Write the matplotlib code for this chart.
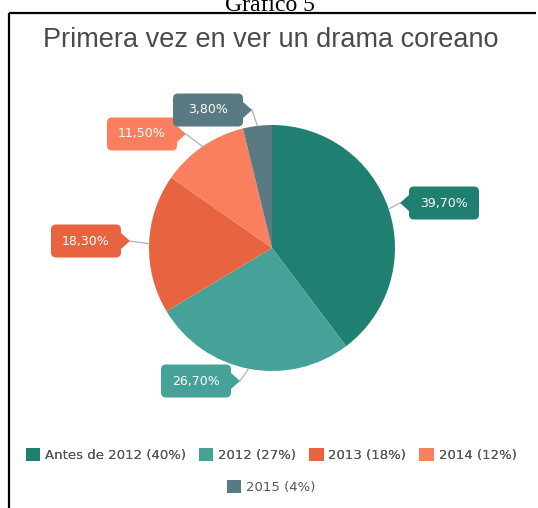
import numpy as np
import matplotlib.pyplot as plt
from matplotlib.patches import FancyBboxPatch, Polygon, Patch

W, H = 538, 508

categories = ["Antes de 2012", "2012", "2013", "2014", "2015"]
values = [39.7, 26.7, 18.3, 11.5, 3.8]
legend_pct = [40, 27, 18, 12, 4]
colors = ["#1f7f71", "#46a199", "#e8633f", "#f97f5f", "#597a82"]

# callout box centres (pixels, y down) and which side the pointer sits on
box_pos = [(444, 203), (196, 381), (86, 241), (142, 134), (208, 110)]
box_side = ["left", "right", "right", "right", "right"]

cx, cy, r = 272, 248, 123


def py(y):
    # pixel row -> data y
    return H - y


fig = plt.figure(figsize=(W / 100, H / 100), dpi=100)
ax = fig.add_axes([0, 0, 1, 1])

wedges, _ = ax.pie(values, colors=colors, startangle=90, counterclock=False,
                   center=(cx, py(cy)), radius=r,
                   wedgeprops=dict(linewidth=0))
ax.set_xlim(0, W)
ax.set_ylim(0, H)
ax.set_aspect("equal")
ax.axis("off")

# frame: top rule and left rule
ax.plot([9, 536], [py(13), py(13)], color="black", lw=1.6, solid_capstyle="butt")
ax.plot([9, 9], [py(13), 0], color="black", lw=1.6, solid_capstyle="butt")

fig.text(270 / W, 1 - 11 / H, "Gráfico 5", ha="center", va="baseline",
         fontsize=17, family="Liberation Serif", color="black")

ax.text(271, py(40), "Primera vez en ver un drama coreano", ha="center",
        va="center", fontsize=19.5, family="Liberation Sans", color="#4a4a4a")

# callouts
bw, bh = 70, 33
cum = 0
for val, col, (bx, by), side in zip(values, colors, box_pos, box_side):
    mid = 90 - (cum + val / 2) * 3.6
    cum += val
    a = np.deg2rad(mid)
    ex, ey = cx + r * np.cos(a), py(cy) + r * np.sin(a)
    byd = py(by)
    box = FancyBboxPatch((bx - bw / 2, byd - bh / 2), bw, bh,
                         boxstyle="round,pad=0,rounding_size=5",
                         fc=col, ec="none", zorder=4)
    ax.add_patch(box)
    if side == "left":
        base = bx - bw / 2
        tip = base - 9
    else:
        base = bx + bw / 2
        tip = base + 9
    ax.add_patch(Polygon([(base, byd + 8), (tip, byd), (base, byd - 8)],
                         closed=True, fc=col, ec="none", zorder=4))
    ax.plot([tip, ex], [byd, ey], color="#aab3b3", lw=0.9, zorder=3)
    ax.text(bx, byd, f"{val:.2f}%".replace(".", ","), ha="center", va="center",
            color="white", fontsize=9, zorder=5)

handles = [Patch(fc=c, ec="none") for c in colors]
labels = [f"{c} ({p}%)" for c, p in zip(categories, legend_pct)]

leg1 = fig.legend(handles[:4], labels[:4], loc="center", ncol=4,
                  bbox_to_anchor=(271 / W, 1 - 455 / H), frameon=False,
                  fontsize=9.5, handlelength=1.1, handleheight=1.1,
                  handletextpad=0.35, columnspacing=1.0, labelcolor="#555555")
leg2 = fig.legend(handles[4:], labels[4:], loc="center", ncol=1,
                  bbox_to_anchor=(271 / W, 1 - 487 / H), frameon=False,
                  fontsize=9.5, handlelength=1.1, handleheight=1.1,
                  handletextpad=0.35, labelcolor="#555555")
fig.add_artist(leg1)

fig.savefig("out.png", dpi=100, facecolor="white")
